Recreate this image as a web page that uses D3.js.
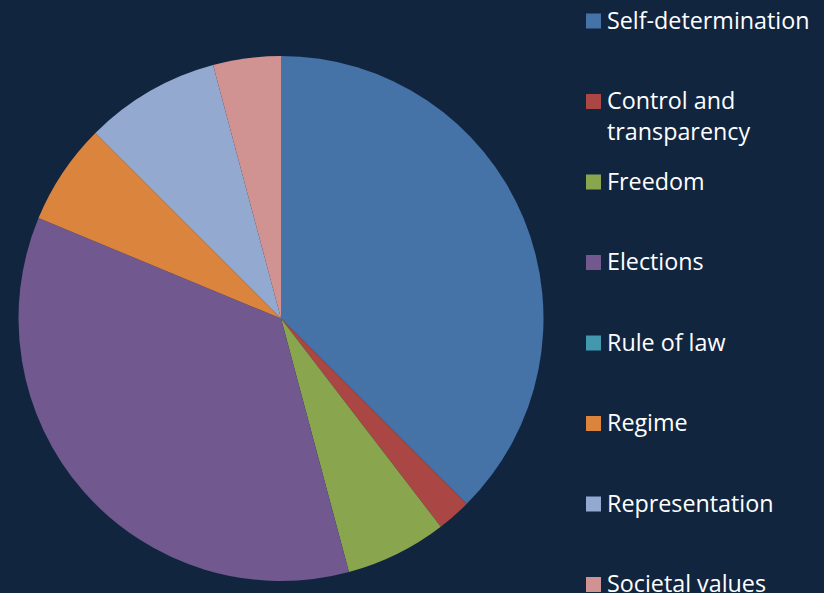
<!DOCTYPE html>
<html>
<head>
<meta charset="utf-8">
<script src="https://cdn.jsdelivr.net/npm/d3@7"></script>
<style>
  html, body { margin: 0; padding: 0; background: #11253F; }
  svg { display: block; }
</style>
</head>
<body>
<svg id="chart" width="824" height="593"></svg>
<script>
// Topics and how many items fall under each one
const categories = ["Self-determination", "Control and transparency", "Freedom", "Elections",
                    "Rule of law", "Regime", "Representation", "Societal values"];
const counts = [18, 1, 3, 17, 0, 3, 4, 2];
const legendLines = [["Self-determination"], ["Control and", "transparency"], ["Freedom"], ["Elections"],
                     ["Rule of law"], ["Regime"], ["Representation"], ["Societal values"]];
const palette = ["#4572A7", "#AA4643", "#89A54E", "#71588F", "#4198AF", "#DB843D", "#93A9CF", "#D19392"];

const svg = d3.select("#chart");
const width = 824, height = 593;
svg.append("rect").attr("width", width).attr("height", height).attr("fill", "#11253F");

const cx = 281, cy = 318.5, radius = 262.5;

const color = d3.scaleOrdinal().domain(categories).range(palette);
const data = categories.map((c, i) => ({ name: c, value: counts[i] }));

const pie = d3.pie().value(d => d.value).sort(null);
const arc = d3.arc().innerRadius(0).outerRadius(radius);

svg.append("g")
  .attr("transform", `translate(${cx},${cy})`)
  .selectAll("path")
  .data(pie(data))
  .join("path")
  .attr("d", arc)
  .attr("fill", d => color(d.data.name));

// Legend on the right
const legendY = d3.scalePoint().domain(categories).range([13.5, 577]);
const legend = svg.append("g").selectAll("g")
  .data(categories)
  .join("g")
  .attr("transform", d => `translate(586,${legendY(d)})`);

legend.append("rect")
  .attr("width", 15).attr("height", 15)
  .attr("fill", d => color(d));

legend.append("text")
  .attr("x", 21)
  .attr("y", 15)
  .attr("fill", "#FFFFFF")
  .style("font-family", "'Open Sans', 'Noto Sans', sans-serif")
  .style("font-size", "23.3px")
  .selectAll("tspan")
  .data((d, i) => legendLines[i])
  .join("tspan")
  .attr("x", 21)
  .attr("dy", (d, i) => i === 0 ? 0 : 31)
  .text(d => d);
</script>
</body>
</html>
